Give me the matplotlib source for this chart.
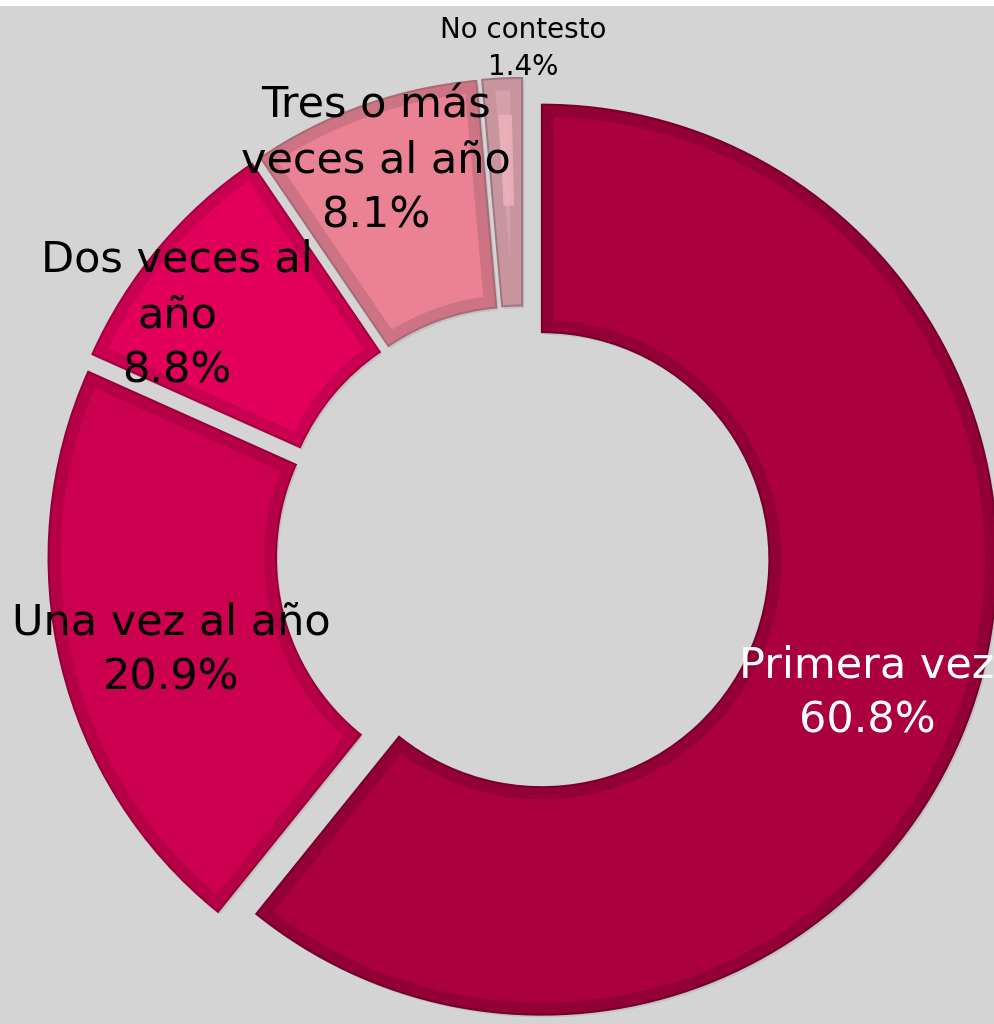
#!/usr/bin/env python3
# coding: utf-8

import numpy as np
import matplotlib
matplotlib.use('Agg')
from matplotlib import pyplot as plt
from matplotlib.patches import Wedge, Rectangle

# data
categories = ['Primera vez', 'Una vez al año', 'Dos veces al\naño',
              'Tres o más\nveces al año', 'No contesto']
values = [60.8, 20.9, 8.8, 8.1, 1.4]

# styling
fills = ['#AA003D', '#CB004E', '#E2005A', '#EA8294', '#D6A0AA']
bands = ['#920035', '#B50045', '#C90050', '#CC7483', '#C8959E']
outlines = ['#74002A', '#95003A', '#A30042', '#A86A74', '#9E7780']
text_colors = ['white', 'black', 'black', 'black', 'black']
text_sizes = [31, 31, 31, 31, 20]
# label anchor points (data units, radius = 1)
label_pos = [(0.756, -0.308), (-0.774, -0.213), (-0.760, 0.523),
             (-0.323, 0.862), (0.0, 1.108)]

plt.rcParams['font.family'] = ['DejaVu Sans']

bg = '#D4D4D4'
fig = plt.figure(figsize=(9.95, 10.24), dpi=100, facecolor=bg)
# thin white strip along the top edge
fig.patches.append(Rectangle((0, 1018 / 1024), 1, 6 / 1024, transform=fig.transFigure,
                             facecolor='white', edgecolor='none', zorder=0))
ax = fig.add_axes([0, 0, 1, 1018 / 1024])

wedges, _ = ax.pie(values, radius=1, startangle=90, counterclock=False,
                   explode=[0.044] * len(values),
                   wedgeprops=dict(width=0.5, linewidth=0))

px = 72 / 100  # points per pixel
for w, fc, bc, oc in zip(wedges, fills, bands, outlines):
    w.set_facecolor(fc)
    w.set_zorder(2)
    # soft drop shadow
    sh = Wedge((w.center[0] + 0.005, w.center[1] - 0.006), w.r, w.theta1, w.theta2,
               width=w.width, facecolor='#000000', alpha=0.08, linewidth=0, zorder=1)
    ax.add_patch(sh)
    # inner bevel band
    band = Wedge(w.center, w.r, w.theta1, w.theta2, width=w.width,
                 facecolor='none', edgecolor=bc, linewidth=24 * px, zorder=3)
    band.set_clip_path(w)
    ax.add_patch(band)
    edge = Wedge(w.center, w.r, w.theta1, w.theta2, width=w.width,
                 facecolor='none', edgecolor=oc, linewidth=2 * px, zorder=4)
    ax.add_patch(edge)

# highlight stripe on the small slice
w = wedges[-1]
hl = Wedge(w.center, w.r - 0.08, w.theta1 + 1.4, w.theta2 - 1.8, width=w.width - 0.3,
           facecolor='#EFB3BD', alpha=0.8, linewidth=0, zorder=3.5)
ax.add_patch(hl)

for cat, v, (x, y), tc, ts in zip(categories, values, label_pos, text_colors, text_sizes):
    ax.text(x, y, f'{cat}\n{v:.1f}%', ha='center', va='center', color=tc,
            fontsize=ts, zorder=6, linespacing=1.4)

ax.set_xlim(-523 / 455, (995 - 523) / 455)
ax.set_ylim(-(1024 - 553) / 455, (553 - 6) / 455)
ax.set_aspect('auto')
ax.axis('off')

fig.savefig('out.png', dpi=100, facecolor=bg)
